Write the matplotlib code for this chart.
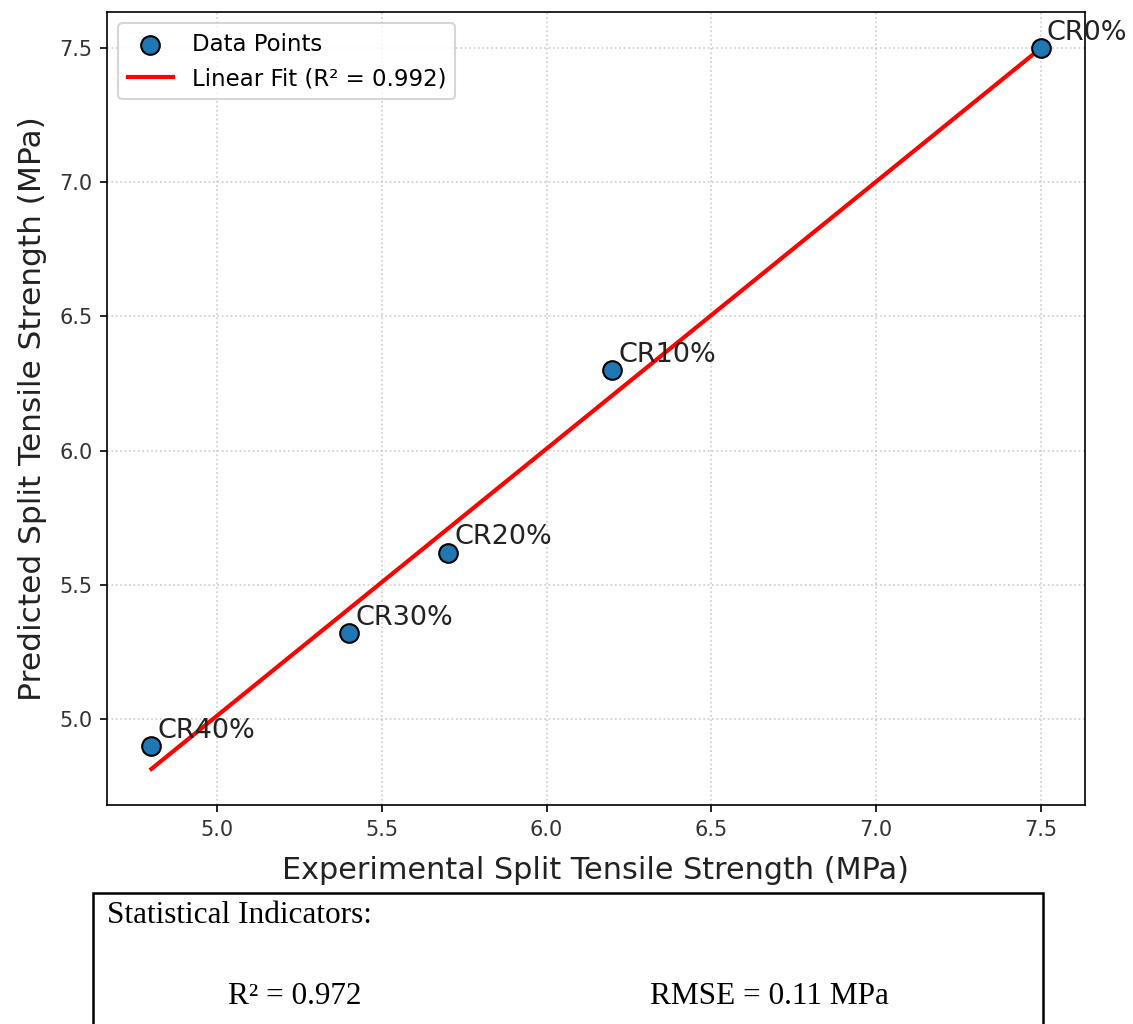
import numpy as np
import matplotlib
import matplotlib.pyplot as plt
from matplotlib.patches import Rectangle

matplotlib.use("Agg")

# split tensile strength, experimental vs model prediction (MPa)
mix_labels = ["CR0%", "CR10%", "CR20%", "CR30%", "CR40%"]
experimental = [7.5, 6.2, 5.7, 5.4, 4.8]
predicted = [7.5, 6.3, 5.62, 5.32, 4.9]
stats_r2 = 0.972
stats_rmse = 0.11

x = np.array(experimental)
y = np.array(predicted)
slope, intercept = np.polyfit(x, y, 1)
fit_r2 = np.corrcoef(x, y)[0, 1] ** 2

fig = plt.figure(figsize=(1133 / 150, 1024 / 150), dpi=150)
ax = fig.add_axes([0.0944, 0.2139, 0.8632, 0.7744])

ax.scatter(x, y, s=80, color="#1f77b4", edgecolor="black", linewidth=1,
           zorder=3, label="Data Points")
x_line = np.array([x.min(), x.max()])
ax.plot(x_line, slope * x_line + intercept, color="red", linewidth=2,
        zorder=2, label=f"Linear Fit (R² = {fit_r2:.3f})")

for name, xi, yi in zip(mix_labels, x, y):
    ax.annotate(name, (xi, yi), xytext=(3, 4), textcoords="offset points",
                fontsize=13, color="#222222")

ax.set_xlabel("Experimental Split Tensile Strength (MPa)", fontsize=14.5,
              color="#222222", labelpad=8)
ax.set_ylabel("Predicted Split Tensile Strength (MPa)", fontsize=15,
              color="#222222", labelpad=6)
ax.tick_params(labelsize=10, labelcolor="#333333")
ax.grid(True, linestyle=":", color="#c0c0c0", alpha=0.8, linewidth=0.8)
ax.legend(loc="upper left", fontsize=11)

# statistics panel under the chart
box = Rectangle((0.0821, -0.05), 0.8385, 0.1779, transform=fig.transFigure,
                fill=False, edgecolor="black", linewidth=1.2, clip_on=False)
fig.add_artist(box)
serif = "Liberation Serif"
fig.text(0.0944, 0.1064, "Statistical Indicators:", fontsize=15,
         family=serif, va="center", ha="left")
fig.text(0.2012, 0.0273, f"R² = {stats_r2:.3f}", fontsize=15,
         family=serif, va="center", ha="left")
fig.text(0.5737, 0.0273, f"RMSE = {stats_rmse:.2f} MPa", fontsize=15,
         family=serif, va="center", ha="left")

fig.savefig("out.png", dpi=150)
plt.close(fig)
